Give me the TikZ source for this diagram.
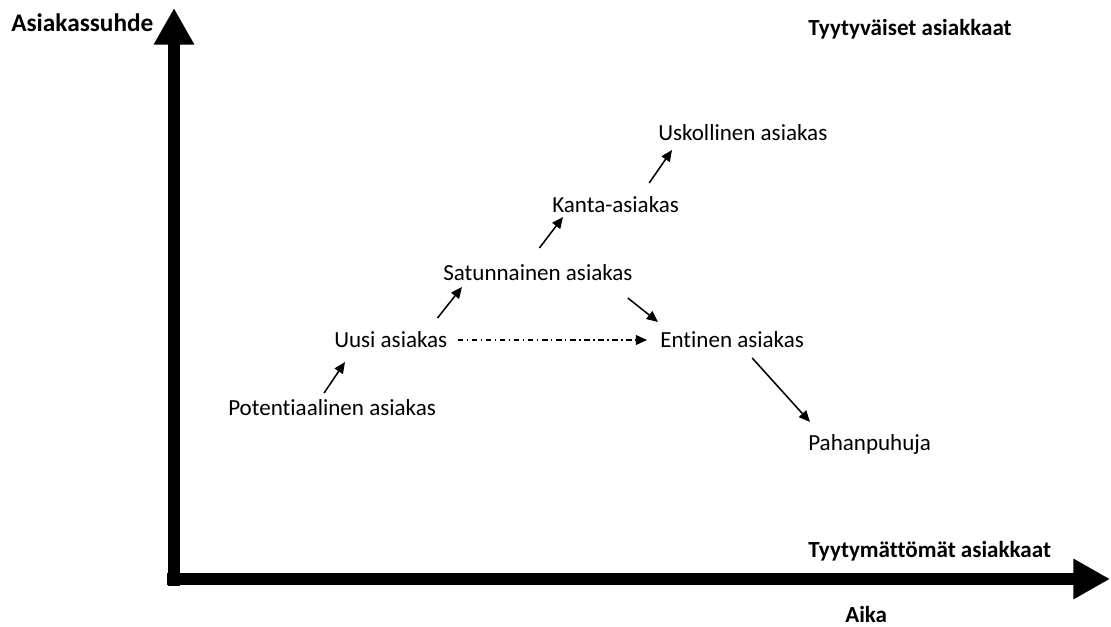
\documentclass[tikz,border=0pt]{standalone}
\usepackage{fontspec}
\setmainfont{Carlito}[Ligatures=NoCommon]
\usepackage{tikz}
\usetikzlibrary{calc}
\usetikzlibrary{arrows.meta}
\tikzset{
    % thick axes with big triangle heads
    axisarrow/.style={
        line width=9.2pt,
        black,
        -{Triangle[length=26pt, width=27pt]}
    },
    % small arrows between the stages
    steparrow/.style={
        line width=1.1pt,
        black,
        -{Triangle[length=8pt, width=7pt]}
    },
    dasharrow/.style={
        steparrow,
        dash pattern=on 4pt off 2.5pt on 1pt off 2.5pt
    },
    stagenode/.style={
        inner sep=0pt,
        anchor=base west,
        font=\fontsize{16.4}{19.7}\selectfont
    },
    axistext/.style={
        stagenode,
        font=\fontsize{16.4}{19.7}\selectfont\bfseries
    }
}

\begin{document}
\begin{tikzpicture}[x=0.25mm, y=-0.25mm]
   \useasboundingbox (0,0) rectangle (1111,627);
   \path
    (174,586) coordinate (ybot)
    (174,8)   coordinate (ytop)
    (167,579) coordinate (xleft)
    (1110,579) coordinate (xright);

    % axes
    \draw[axisarrow] (ybot) -- (ytop);
    \draw[axisarrow] (xleft) -- (xright);

    % axis texts
    \node[axistext, font=\fontsize{18}{21.6}\selectfont\bfseries] (suhde) at (11,32) {Asiakassuhde};
    \node[axistext] (tyyt) at (808,36) {Tyytyväiset asiakkaat};
    \node[axistext] (tyytm) at (808,557) {Tyytymättömät asiakkaat};
    \node[axistext] (aika) at (845,622) {Aika};

    % stages of the customer
    \node[stagenode] (usk) at (658,140) {Uskollinen asiakas};
    \node[stagenode] (kanta) at (552,212) {Kanta-asiakas};
    \node[stagenode] (sat) at (443,280) {Satunnainen asiakas};
    \node[stagenode] (uusi) at (334,347) {Uusi asiakas};
    \node[stagenode] (ent) at (660,347) {Entinen asiakas};
    \node[stagenode] (pot) at (228,415) {Potentiaalinen asiakas};
    \node[stagenode] (pah) at (808,450) {Pahanpuhuja};

    % arrows
    \draw[steparrow] ($(pot.base)+(-8,-22)$) -- ($(uusi.base west)+(11,15)$);
    \draw[steparrow] ($(uusi.base east)+(-10,-29)$) -- ($(sat.base west)+(19,7)$);
    \draw[steparrow] ($(sat.base)+(1.5,-32)$) -- ($(kanta.base west)+(11,5)$);
    \draw[steparrow] ($(kanta.base east)+(-30,-29)$) -- ($(usk.base west)+(14,10)$);
    \draw[steparrow] ($(sat.base east)+(-5,18)$) -- ($(ent.base west)+(-2,-25)$);
    \draw[dasharrow] ($(uusi.base east)+(10,-7)$) -- ($(ent.base west)+(-13,-7)$);
    \draw[steparrow] ($(ent.base east)+(-52,11)$) -- ($(pah.base west)+(2,-28)$);

\end{tikzpicture}
\end{document}
